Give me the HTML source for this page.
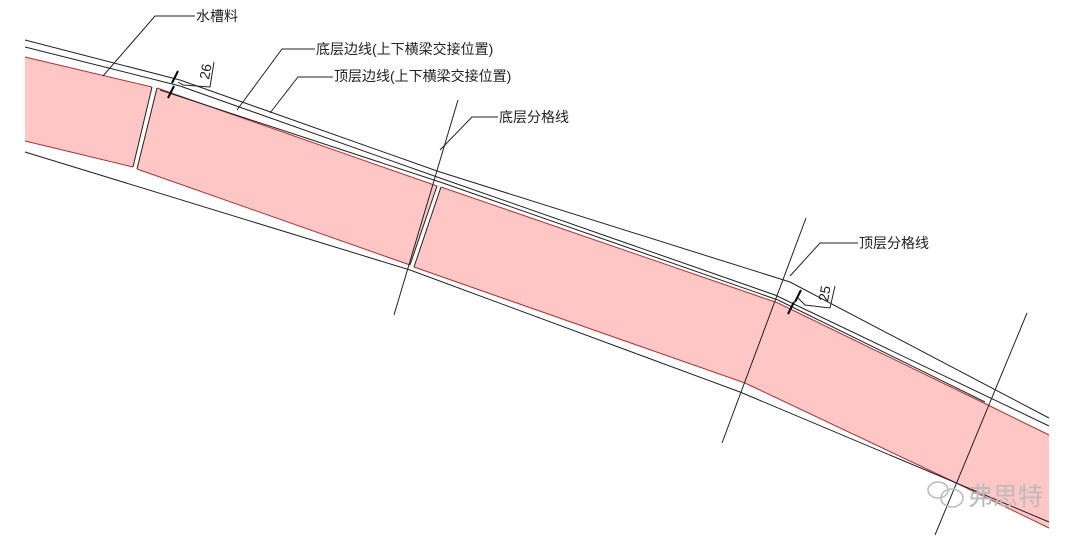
<!DOCTYPE html>
<html><head><meta charset="utf-8"><style>
html,body{margin:0;padding:0;background:#fff;}
svg{display:block;}
text{font-family:"Liberation Sans","Noto Sans CJK SC",sans-serif;fill:#222;}
</style></head><body>
<svg width="1080" height="544" viewBox="0 0 1080 544" xmlns="http://www.w3.org/2000/svg">
<g fill="#ffc6c6" stroke="none">
<polygon points="25,57 152,87 133,167 25,141"/>
<polygon points="157,88 437,186 410,265 137,169"/>
<polygon points="441,187 778,303 988,405 1049,435 1049,528 950,480 745,383 414,267"/>
</g>
<g fill="none" stroke="#a33" stroke-width="1">
<polyline points="25,57 152,87"/>
<polyline points="25,141 133,167"/>
<polyline points="157,88 437,186"/>
<polyline points="137,169 410,265"/>
<polyline points="441,187 778,303 988,405 1049,435"/>
<polyline points="414,267 745,383 950,480 1049,528"/>
</g>
<g fill="none" stroke="#222" stroke-width="1">
<polyline points="25,40 180,80 440,172 790,282 1049,418"/>
<polyline points="25,47 180,86 440,178 775,295 1049,426"/>
<polyline points="160,90 440,182 778,300 985,402"/>
<polyline points="25,152 410,270 740,392 1049,522"/>
<line x1="152" y1="87" x2="133" y2="167"/>
<line x1="157" y1="88" x2="137" y2="169"/>
<line x1="437" y1="186" x2="410" y2="265"/>
<line x1="441" y1="187" x2="414" y2="267"/>
<line x1="458" y1="100" x2="394" y2="315"/>
<line x1="806" y1="218" x2="722" y2="443"/>
<line x1="1027" y1="313" x2="935" y2="535"/>
<polyline points="195,16 155,16 103,76"/>
<polyline points="315,49 282,49 237,110"/>
<polyline points="333,77 298,77 270,113"/>
<polyline points="498,117 472,117 440,150"/>
<polyline points="858,243 820,243 790,276"/>
<polyline points="178,82 183,85 210,87 214,62"/>
<polyline points="798,298 805,305 830,308 835,286"/>
</g>
<g stroke="#000" stroke-width="2">
<line x1="172" y1="83" x2="178" y2="71"/>
<line x1="168" y1="98" x2="174" y2="86"/>
<line x1="788" y1="314" x2="794" y2="302"/>
<line x1="795" y1="302" x2="801" y2="290"/>
</g>
<g font-size="14">
<text x="196" y="21">水槽料</text>
<text x="316" y="54">底层边线(上下横梁交接位置)</text>
<text x="334" y="81">顶层边线(上下横梁交接位置)</text>
<text x="499" y="122">底层分格线</text>
<text x="859" y="248">顶层分格线</text>
<text transform="translate(209,80) rotate(-80)">26</text>
<text transform="translate(828,302) rotate(-80)">25</text>
</g>
<text x="968" y="505" font-size="25" style="fill:#bbb">弗思特</text>
<g fill="none" stroke="#bbb" stroke-width="1.5">
<ellipse cx="938" cy="490" rx="10" ry="8"/>
<ellipse cx="952" cy="498" rx="11" ry="9"/>
</g>
</svg>
</body></html>
